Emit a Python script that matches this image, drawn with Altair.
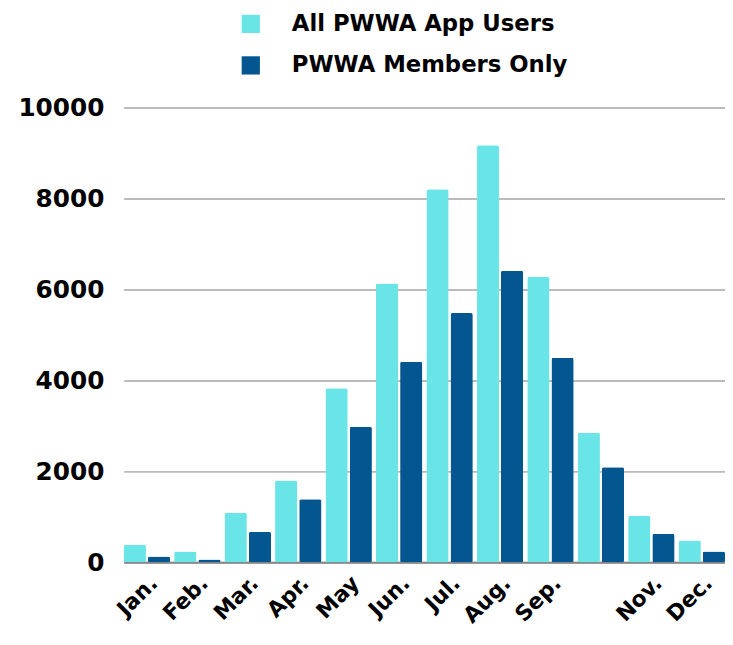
import altair as alt
import pandas as pd

months = ["Jan.", "Feb.", "Mar.", "Apr.", "May", "Jun.", "Jul.", "Aug.", "Sep.", "Oct.", "Nov.", "Dec."]
all_users = [390, 240, 1090, 1800, 3830, 6130, 8200, 9170, 6280, 2850, 1020, 480]
members = [130, 65, 670, 1390, 2980, 4410, 5480, 6410, 4500, 2090, 630, 240]
series = ["All PWWA App Users", "PWWA Members Only"]
colors = ["#69E5E8", "#03568F"]

rows = []
for m, a, b in zip(months, all_users, members):
    rows.append({"month": m, "series": series[0], "value": a})
    rows.append({"month": m, "series": series[1], "value": b})
df = pd.DataFrame(rows)

font = "DejaVu Sans"

chart = alt.Chart(df).mark_bar(cornerRadius=2).encode(
    x=alt.X("month:N", sort=months, title=None,
            scale=alt.Scale(paddingInner=0.08, paddingOuter=0.0),
            axis=alt.Axis(labelAngle=-45, labelAlign="right", labelBaseline="top",
                          labelFontSize=22, labelFontWeight="bold", labelFont=font,
                          labelColor="black", ticks=False, domainColor="#888888",
                          domainWidth=2, labelPadding=10,
                          labelExpr="datum.value == 'Oct.' ? '' : datum.label")),
    xOffset=alt.XOffset("series:N", sort=series,
                        scale=alt.Scale(paddingInner=0.08)),
    y=alt.Y("value:Q", title=None,
            scale=alt.Scale(domain=[0, 10000]),
            axis=alt.Axis(values=[0, 2000, 4000, 6000, 8000, 10000], format="d",
                          labelFontSize=25, labelFontWeight="bold", labelFont=font,
                          labelColor="black", ticks=False, domain=False,
                          gridColor="#BBBBBB", gridWidth=2, labelPadding=20)),
    color=alt.Color("series:N", sort=series,
                    scale=alt.Scale(domain=series, range=colors),
                    legend=alt.Legend(title=None, orient="none", legendX=117, legendY=-96,
                                      labelFontSize=23, labelFontWeight="bold", labelFont=font,
                                      labelColor="black", symbolType="square", symbolSize=340,
                                      symbolStrokeWidth=0, rowPadding=18, labelOffset=30,
                                      labelLimit=0)),
).properties(
    width=608, height=460,
    autosize=alt.AutoSizeParams(type="none"),
    padding={"left": 117, "top": 97, "right": 0, "bottom": 80},
).configure_view(stroke=None)

chart.save("out.html", embed_options={"renderer": "svg", "actions": False})
